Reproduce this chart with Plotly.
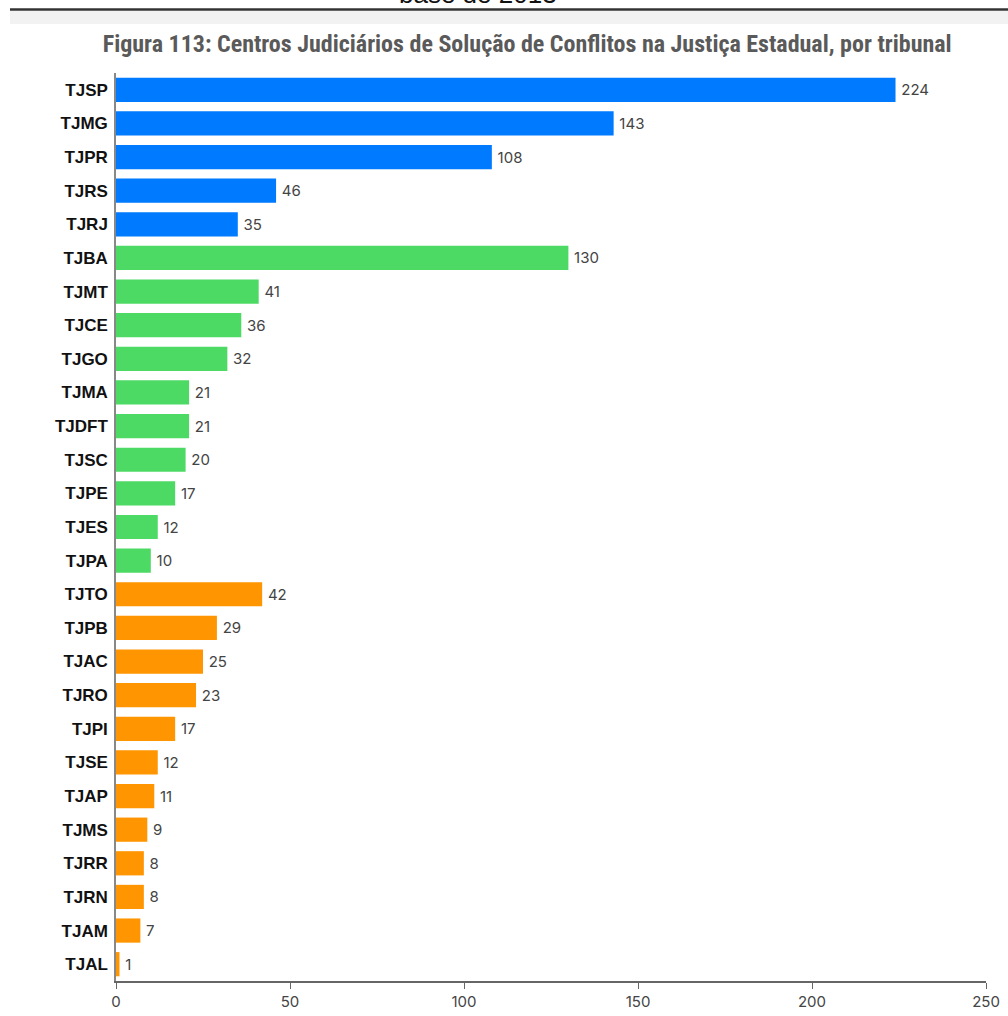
import plotly.graph_objects as go

tribunais = ["TJSP", "TJMG", "TJPR", "TJRS", "TJRJ",
             "TJBA", "TJMT", "TJCE", "TJGO", "TJMA", "TJDFT", "TJSC", "TJPE", "TJES", "TJPA",
             "TJTO", "TJPB", "TJAC", "TJRO", "TJPI", "TJSE", "TJAP", "TJMS", "TJRR", "TJRN", "TJAM", "TJAL"]
centros = [224, 143, 108, 46, 35,
           130, 41, 36, 32, 21, 21, 20, 17, 12, 10,
           42, 29, 25, 23, 17, 12, 11, 9, 8, 8, 7, 1]
porte = ["Grande"] * 5 + ["Médio"] * 10 + ["Pequeno"] * 12
cores_porte = {"Grande": "#007AFF", "Médio": "#4CD964", "Pequeno": "#FF9500"}
x_ticks = [0, 50, 100, 150, 200, 250]

fig = go.Figure(go.Bar(
    x=centros, y=tribunais, orientation="h",
    marker=dict(color=[cores_porte[p] for p in porte], line=dict(width=0)),
    text=["\u2009" + str(v) for v in centros], textposition="outside",
    textfont=dict(family="Inter, Roboto, sans-serif", size=15, color="#444444"),
    cliponaxis=False,
))

fig.update_layout(
    width=1008, height=1016,
    margin=dict(l=116, r=22, t=73, b=35, autoexpand=False),
    paper_bgcolor="white", plot_bgcolor="white",
    bargap=0.28,
    showlegend=False,
    title=dict(
        text="<b>Figura 113: Centros Judiciários de Solução de Conflitos na Justiça Estadual, por tribunal</b>",
        x=0.523, xanchor="center", y=1 - 44 / 1016, yanchor="middle",
        font=dict(family="Liberation Sans Narrow, Roboto Condensed, Roboto, sans-serif", size=24, color="#5a5a5a"),
    ),
    xaxis=dict(range=[0, 250], tickvals=x_ticks, showgrid=False, zeroline=False,
               showline=True, linecolor="#666666", linewidth=1.5,
               ticks="outside", ticklen=6, tickcolor="#666666", automargin=False,
               tickfont=dict(family="Inter, Roboto, sans-serif", size=15, color="#444444")),
    yaxis=dict(categoryorder="array", categoryarray=tribunais[::-1],
               showgrid=False, showline=True, linecolor="#888888", linewidth=1.5,
               ticks="", ticklabelstandoff=3, automargin=False,
               tickfont=dict(family="Liberation Sans, Arial, sans-serif", size=17,
                             color="#111111", weight="bold"),
               ),
)

# partial heading of the page above, cut off at the top
fig.add_annotation(text="base de 2013", xref="paper", yref="paper", x=(478 - 116) / 870,
                   y=1 + 73 / 908 + 6 / 908,
                   xanchor="center", yanchor="middle", showarrow=False,
                   font=dict(family="Liberation Sans, Arial, sans-serif", size=26, color="#111111"))
fig.add_shape(type="rect", xref="paper", yref="paper", x0=-106 / 870, x1=1 + 22 / 870,
              y0=1 + (73 - 24) / 908, y1=1 + (73 - 11) / 908,
              line=dict(width=0), fillcolor="rgba(0,0,0,0.05)")
fig.add_shape(type="line", xref="paper", yref="paper", x0=-106 / 870, x1=1 + 22 / 870,
              y0=1 + (73 - 9.5) / 908, y1=1 + (73 - 9.5) / 908,
              line=dict(color="#333333", width=2.5))

fig.write_html("out.html", config={"displayModeBar": False},
               post_script="document.body.style.margin='0';document.body.style.overflow='hidden';")
